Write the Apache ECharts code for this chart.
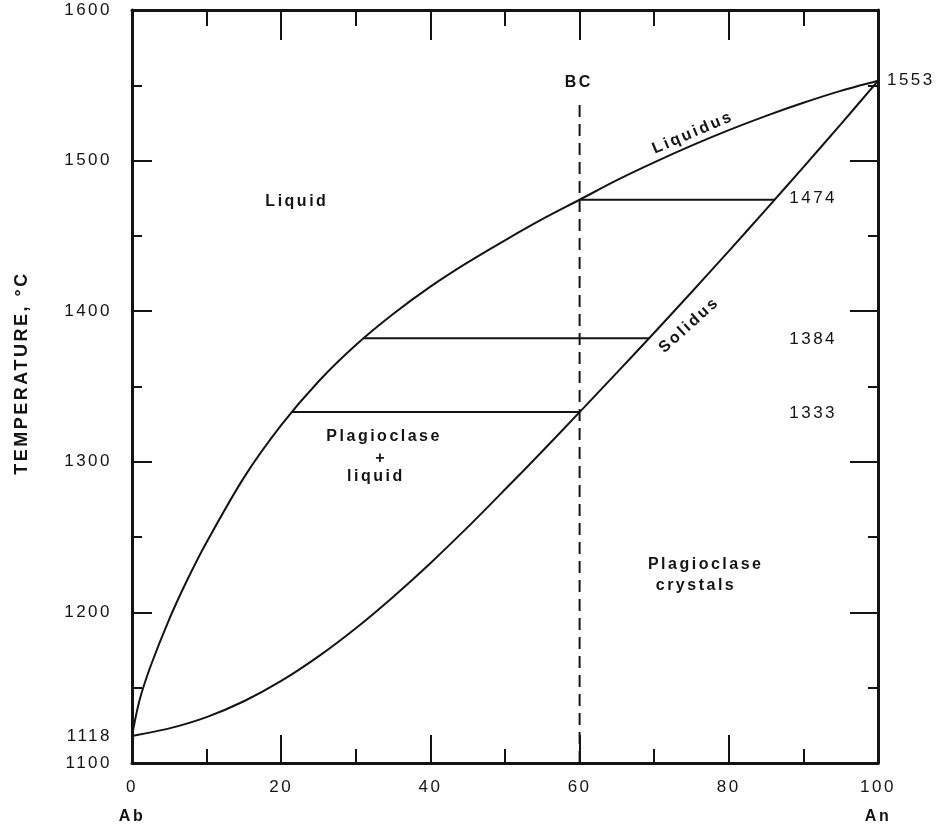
<!DOCTYPE html>
<html><head><meta charset="utf-8">
<script src="https://cdn.jsdelivr.net/npm/echarts@6/dist/echarts.min.js"></script>
<style>html,body{margin:0;padding:0;background:#fff}#c{width:938px;height:833px}</style>
</head><body><div id="c"></div>
<script>
// ---- data ----
const liquidus = [[0,1118],[1,1141.5],[2.5,1164.4],[5,1195.6],[7.5,1222.5],[10,1246.6],[15,1289.5],[20,1324.3],[25,1353.3],[30,1377.5],[35,1398.1],[40,1416.3],[45,1432.4],[50,1447.1],[55,1461.1],[60,1474],[65,1487],[70,1498.8],[75,1509.9],[80,1520.2],[85,1529.7],[90,1538.4],[95,1546.3],[100,1553]];
const solidus = [[0,1118],[5,1123],[10,1130.5],[15,1141],[20,1154.5],[25,1170.8],[30,1189.5],[35,1210.3],[40,1232.7],[45,1256.6],[50,1281.6],[55,1307],[60,1333],[65,1359.2],[70,1385.7],[75,1412.6],[80,1439.9],[85,1467.6],[90,1495.7],[95,1524.1],[100,1553]];
const tieTemps = [1474, 1382, 1333];
const tieLiquidX = [60, 31, 21.4];
const tieSolidX = [86.2, 69.3, 60];
const bcX = 60;
const bcRange = [1100, 1538];
const yLabelValues = [1100, 1118, 1200, 1300, 1400, 1500, 1600];
const xEndNames = {0: 'Ab', 100: 'An'};
const regionLabels = [
  ['Liquid', 22.1, 1472.5],
  ['Plagioclase', 33.8, 1317],
  ['+', 33.4, 1302],
  ['liquid', 32.7, 1290],
  ['Plagioclase', 76.9, 1231.5],
  ['crystals', 75.6, 1218],
  ['BC', 59.9, 1551.5]
];
const curveLabels = [
  ['Liquidus', 75.2, 1518.5, 23],
  ['Solidus', 74.7, 1390.8, 42]
];
const tempLabels = [
  ['1553', 101.2, 1553],
  ['1474', 88.1, 1475],
  ['1384', 88.1, 1381.5],
  ['1333', 88.1, 1332.4]
];

// ---- chart ----
const FONT = '"Liberation Sans", Arial, sans-serif';
const INK = '#141414';
const chart = echarts.init(document.getElementById('c'), null, {renderer: 'canvas'});

function axisCommon(pos, showLabel, major, minor) {
  return {
    type: 'value', position: pos,
    axisLine: {show: true, onZero: false, lineStyle: {color: INK, width: 3}},
    axisTick: {show: true, inside: true, length: major, lineStyle: {color: INK, width: 2}},
    minorTick: {show: true, splitNumber: 2, length: minor, lineStyle: {color: INK, width: 2}},
    splitLine: {show: false},
    axisLabel: {show: showLabel}
  };
}

const x0 = axisCommon('bottom', true, 28, 14);
Object.assign(x0, {min: 0, max: 100, interval: 20});
x0.axisLabel = {
  show: true, margin: 10, color: INK, fontFamily: FONT, fontSize: 17,
  formatter: v => xEndNames[v] ? '{n|' + v + '}\n{e|' + xEndNames[v] + '}' : '{n|' + v + '}',
  rich: {
    n: {fontFamily: FONT, fontSize: 17, lineHeight: 29, color: INK},
    e: {fontFamily: FONT, fontSize: 16, fontWeight: 'bold', lineHeight: 29, color: INK}
  }
};
const x1 = axisCommon('top', false, 30, 16);
Object.assign(x1, {min: 0, max: 100, interval: 20});

const y0 = axisCommon('left', true, 20, 10);
Object.assign(y0, {min: 1100, max: 1600, interval: 100});
y0.axisLabel = {show: true, margin: 20, color: INK, fontFamily: FONT, fontSize: 17,
  customValues: yLabelValues, formatter: v => String(v)};
const y1 = axisCommon('right', false, 28, 10);
Object.assign(y1, {min: 1100, max: 1600, interval: 100});

const lineStyle = {color: INK, width: 2};
const series = [];
series.push({type: 'line', data: liquidus, smooth: 0.3, showSymbol: false, symbol: 'none', lineStyle, silent: true});
series.push({type: 'line', data: solidus, smooth: 0.3, showSymbol: false, symbol: 'none', lineStyle, silent: true});
tieTemps.forEach((t, i) => {
  series.push({type: 'line', data: [[tieLiquidX[i], t], [tieSolidX[i], t]], symbol: 'none', lineStyle, silent: true});
});
series.push({type: 'line', data: [[bcX, bcRange[0]], [bcX, bcRange[1]]], symbol: 'none',
  lineStyle: {color: INK, width: 2, type: [12, 7]}, silent: true});

const labelBase = {show: true, color: INK, fontFamily: FONT, opacity: 1};
series.push({
  type: 'scatter', symbolSize: 0, clip: false, silent: true, itemStyle: {opacity: 1},
  data: regionLabels.map(r => ({name: r[0], value: [r[1], r[2]]})),
  label: Object.assign({}, labelBase, {position: 'inside', formatter: p => p.name, fontSize: 16, fontWeight: 'bold'})
});
series.push({
  type: 'scatter', symbolSize: 0, clip: false, silent: true, itemStyle: {opacity: 1},
  data: curveLabels.map(r => ({name: r[0], value: [r[1], r[2]], label: {rotate: r[3]}})),
  label: Object.assign({}, labelBase, {position: 'inside', formatter: p => p.name, fontSize: 16, fontWeight: 'bold'})
});
series.push({
  type: 'scatter', symbolSize: 0, clip: false, silent: true, itemStyle: {opacity: 1},
  data: tempLabels.map(r => ({name: r[0], value: [r[1], r[2]]})),
  label: Object.assign({}, labelBase, {position: 'right', distance: 0, formatter: p => p.name, fontSize: 17})
});

chart.setOption({
  backgroundColor: '#ffffff',
  animation: false,
  grid: {left: 132, right: 60, top: 10, bottom: 70, containLabel: false},
  xAxis: [x0, x1],
  yAxis: [y0, y1],
  graphic: [{
    type: 'text', x: 22, y: 373, rotation: Math.PI / 2,
    style: {text: 'TEMPERATURE, °C', fill: INK, font: 'bold 18px ' + FONT,
      align: 'center', verticalAlign: 'middle'}
  }],
  series
});

// widen the letter spacing of all canvas text, as in the typeset original
(function () {
  try {
    const painter = chart.getZr().painter;
    const layers = painter._layers || {};
    Object.keys(layers).forEach(k => {
      const l = layers[k];
      if (l && l.ctx && 'letterSpacing' in l.ctx) l.ctx.letterSpacing = '2.5px';
    });
    painter.refresh(true);
  } catch (e) {}
})();
</script></body></html>
